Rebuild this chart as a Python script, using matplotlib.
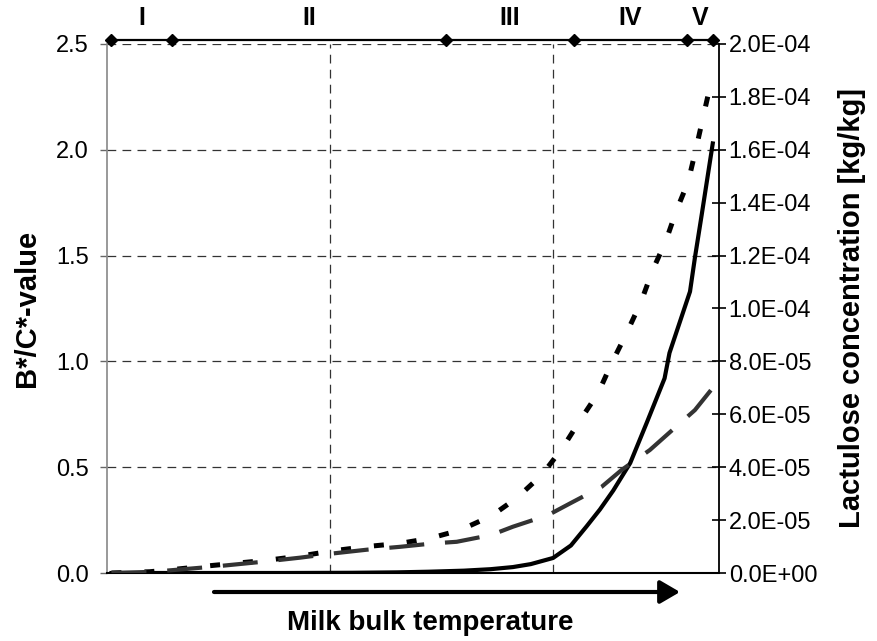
import numpy as np
import matplotlib
matplotlib.use("Agg")
import matplotlib.pyplot as plt
from matplotlib.ticker import FormatStrFormatter, MultipleLocator

plt.rcParams['font.family'] = ['Liberation Sans', 'DejaVu Sans']

# position along the heating section (arbitrary units, grid every 50)
solid_x = [1, 20, 40, 55, 65, 72, 80, 86, 91, 95, 100, 104, 107.5, 110.5,
           113.5, 117.3, 121, 125.0, 126.1, 130.7, 131.8, 133.3, 135.8]
solid_y = [0, 0, 0, 0.001, 0.003, 0.006, 0.011, 0.018, 0.028, 0.042, 0.071,
           0.13, 0.22, 0.30, 0.39, 0.52, 0.71, 0.92, 1.04, 1.33, 1.49, 1.69, 2.03]

dot_x = [1, 9.6, 14.1, 23.8, 29.8, 35.8, 43.3, 50.7, 58.2, 65.7, 72.4, 79.2,
         86.2, 91.9, 97.5, 102.1, 106.0, 110.1, 113.1, 116.4, 119.7, 122.3,
         125.3, 127.6, 130.3, 132.1, 133.7, 135.2, 135.8]
dot_y = [0, 0.006, 0.015, 0.036, 0.048, 0.06, 0.08, 0.105, 0.125, 0.14, 0.164,
         0.203, 0.27, 0.355, 0.464, 0.59, 0.72, 0.85, 0.99, 1.13, 1.28, 1.43,
         1.57, 1.71, 1.85, 2.01, 2.16, 2.30, 2.33]

# lactulose concentration, in 1E-05 kg/kg
lact_x = [1, 9.6, 14.1, 23.8, 29.8, 35.8, 43.3, 50.7, 58.2, 65.7, 73.2, 78.4,
          86.2, 91.0, 98.9, 103.8, 110.9, 115.4, 121.7, 125.9, 131.8, 135.8]
lact_y = [0, 0.04, 0.10, 0.24, 0.34, 0.44, 0.58, 0.74, 0.88, 0.99, 1.12, 1.18,
          1.44, 1.75, 2.19, 2.63, 3.26, 3.90, 4.65, 5.28, 6.16, 7.00]

# zone boundaries and names
zone_x = [1, 14.5, 76, 104.7, 130, 135.8]
zone_names = ['I', 'II', 'III', 'IV', 'V']
zone_level = 2.52

fig = plt.figure(figsize=(8.77, 6.41), dpi=100)
ax = fig.add_axes([107 / 877, 1 - 573 / 641, 612 / 877, 529 / 641])

ax.set_xlim(0, 137.2)
ax.set_ylim(0, 2.5)
ax.set_xticks([50, 100])
ax.tick_params(axis='x', length=0, labelbottom=False)
ax.yaxis.set_major_locator(MultipleLocator(0.5))
ax.yaxis.set_major_formatter(FormatStrFormatter('%.1f'))
ax.tick_params(axis='y', direction='out', length=5, width=1, color='#666666',
               labelsize=17, pad=8)
ax.grid(True, color='#333333', lw=0.9, ls=(0, (7, 5)))

ax.spines['top'].set_visible(False)
ax.spines['right'].set_visible(False)
ax.spines['left'].set_color('#888888')
ax.spines['left'].set_linewidth(1.2)
ax.spines['bottom'].set_color('black')
ax.spines['bottom'].set_linewidth(1.5)

ax.plot(solid_x, solid_y, color='black', lw=3.0, solid_joinstyle='round', zorder=5)
ax.plot(dot_x, dot_y, color='black', lw=3.6, ls=(0, (2, 4.6)), zorder=5)

ax2 = ax.twinx()
ax2.set_ylim(0, 2.0e-4)
ax2.yaxis.set_major_locator(MultipleLocator(2e-5))
ax2.yaxis.set_major_formatter(FormatStrFormatter('%.1E'))
ax2.tick_params(axis='y', direction='inout', length=10, width=1.2,
                labelsize=17, pad=2)
for s in ['top', 'left', 'bottom']:
    ax2.spines[s].set_visible(False)
ax2.spines['right'].set_linewidth(1.3)
ax2.plot(lact_x, np.array(lact_y) * 1e-5, color='#333333', lw=3.0,
         ls=(0, (8.4, 5)), zorder=5)

# zone bar above the plot
ax.plot(zone_x, [zone_level] * len(zone_x), color='black', lw=1.6,
        marker='D', ms=6, clip_on=False, zorder=6)
for i, name in enumerate(zone_names):
    xc = (zone_x[i] + zone_x[i + 1]) / 2
    ax.text(xc, 2.623, name, ha='center', va='center', fontsize=18,
            fontweight='bold')

ax.set_ylabel('B*/C*-value', fontsize=21, fontweight='bold')
ax.yaxis.set_label_coords(-0.108, 0.5)
ax2.set_ylabel('Lactulose concentration [kg/kg]', fontsize=21, fontweight='bold')
ax2.yaxis.set_label_coords(1.195, 0.5)

# temperature arrow and caption below the axis
ay = 1 - 592 / 641
fig.add_artist(matplotlib.patches.FancyArrowPatch(
    (214 / 877, ay), (680 / 877, ay), transform=fig.transFigure,
    arrowstyle='-|>,head_length=0.6,head_width=0.35', mutation_scale=20,
    lw=3, color='black', shrinkA=0, shrinkB=0))
fig.text(430 / 877, 1 - 623 / 641, 'Milk bulk temperature', ha='center',
         va='center', fontsize=20, fontweight='bold')

fig.savefig('out.png', dpi=100)
